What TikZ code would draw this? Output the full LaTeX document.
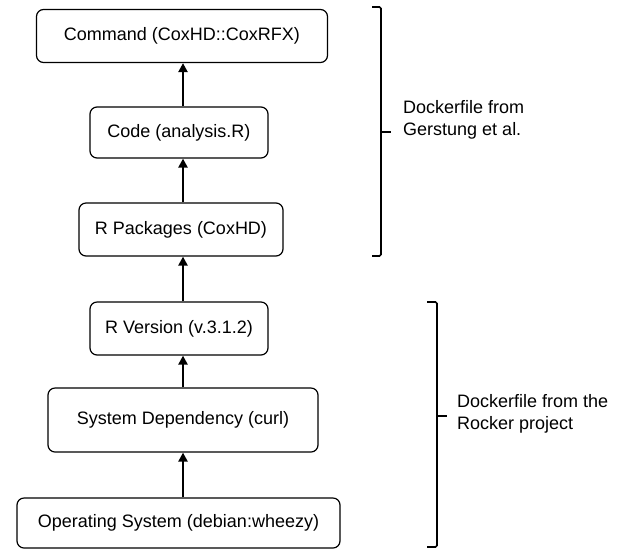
\documentclass[tikz,border=0pt]{standalone}
\usepackage{fontspec}
\setmainfont{Liberation Sans}
\usetikzlibrary{arrows.meta}
\begin{document}
\begin{tikzpicture}[x=1pt,y=-1pt,
  box/.style={draw, line width=1.2pt, rounded corners=7pt, inner sep=0pt, font=\fontsize{18}{22}\selectfont},
  arr/.style={line width=2.6pt, -{Triangle[length=9pt,width=9pt]}},
  brace/.style={line width=1.6pt, rounded corners=1.5pt},
  lbl/.style={anchor=west, align=left, inner sep=0pt, font=\fontsize{18}{22}\selectfont}]
\useasboundingbox (0,0) rectangle (617,550);
\node[box, minimum width=291pt, minimum height=53pt] (cmd) at (182,36) {Command (CoxHD::CoxRFX)};
\node[box, minimum width=178pt, minimum height=51pt] (code) at (179,132.5) {Code (analysis.R)};
\node[box, minimum width=204pt, minimum height=53pt] (pkg) at (181,229.5) {R Packages (CoxHD)};
\node[box, minimum width=178pt, minimum height=53pt] (ver) at (179,328.5) {R Version (v.3.1.2)};
\node[box, minimum width=270pt, minimum height=64pt] (dep) at (183,420) {System Dependency (curl)};
\node[box, minimum width=323pt, minimum height=50pt] (os) at (178.5,523) {Operating System (debian:wheezy)};
\coordinate (ax) at (183,0);
\draw[arr] (code.north -| ax) -- (cmd.south -| ax);
\draw[arr] (pkg.north -| ax) -- (code.south -| ax);
\draw[arr] (ver.north -| ax) -- (pkg.south -| ax);
\draw[arr] (dep.north -| ax) -- (ver.south -| ax);
\draw[arr] (os.north -| ax) -- (dep.south -| ax);
% brace 1
\coordinate (b1t) at (372,7);
\coordinate (b1b) at (372,256);
\coordinate (b1m) at (381,132);
\draw[brace] (b1t) -- (381,7) -- (381,256) -- (b1b);
\draw[line width=1.6pt] (b1m) -- (391,132);
\node[lbl] (l1) at (403,120) {Dockerfile from\\Gerstung et al.};
% brace 2
\coordinate (b2t) at (427,302);
\coordinate (b2b) at (427,547);
\coordinate (b2m) at (437,416);
\draw[brace] (b2t) -- (437,302) -- (437,547) -- (b2b);
\draw[line width=1.6pt] (b2m) -- (447,416);
\node[lbl] (l2) at (457,414) {Dockerfile from the\\Rocker project};
\end{tikzpicture}
\end{document}
